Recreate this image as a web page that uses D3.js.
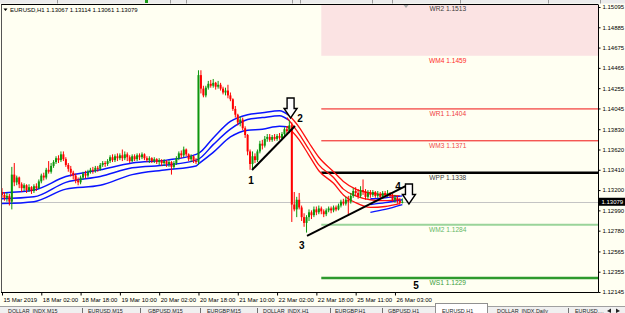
<!DOCTYPE html>
<html><head><meta charset="utf-8">
<script src="https://cdn.jsdelivr.net/npm/d3@7/dist/d3.min.js"></script>
<style>
html,body{margin:0;padding:0;background:#fffff2;overflow:hidden}
svg{display:block;font-family:"Liberation Sans",Arial,sans-serif}
</style></head><body>
<svg id="c" width="625" height="313"></svg>
<script>
// ---------------- DATA ----------------
const symbolTitle = "EURUSD,H1";
const lastQuote = [1.13067, 1.13114, 1.13061, 1.13079];

const opens = [1.1318,1.1315,1.1312,1.1314,1.1308,1.1336,1.1328,1.1333,1.1326,1.1322,1.1325,1.1320,1.1323,1.1319,1.1324,1.1322,1.1329,1.1335,1.1333,1.1341,
1.1339,1.1345,1.1349,1.1353,1.1351,1.1357,1.1352,1.1346,1.1342,1.1338,1.1335,1.1330,1.1328,1.1333,1.1337,1.1335,1.1339,1.1341,1.1340,1.1343,
1.1342,1.1346,1.1348,1.1347,1.1350,1.1354,1.1351,1.1355,1.1353,1.1356,1.1353,1.1357,1.1354,1.1350,1.1355,1.1352,1.1356,1.1354,1.1357,1.1353,
1.1351,1.1353,1.1350,1.1352,1.1349,1.1351,1.1348,1.1350,1.1347,1.1349,1.1344,1.1348,1.1353,1.1358,1.1356,1.1362,1.1357,1.1352,1.1355,1.1350,
1.1349,1.1439,1.1425,1.1418,1.1426,1.1430,1.1428,1.1431,1.1427,1.1429,1.1425,1.1421,1.1423,1.1418,1.1414,1.1404,1.1398,1.1390,1.1393,1.1384,
1.1377,1.1360,1.1347,1.1355,1.1351,1.1360,1.1368,1.1366,1.1373,1.1375,1.1372,1.1375,1.1373,1.1376,1.1374,1.1378,1.1383,1.1381,1.1387,1.1305,
1.1300,1.1310,1.1302,1.1292,1.1286,1.1292,1.1297,1.1294,1.1300,1.1297,1.1301,1.1298,1.1295,1.1299,1.1301,1.1299,1.1302,1.1300,1.1304,1.1308,
1.1306,1.1310,1.1308,1.1314,1.1319,1.1317,1.1314,1.1320,1.1318,1.1313,1.1317,1.1315,1.1318,1.1314,1.1316,1.1313,1.1317,1.1315,1.1317,1.1314,
1.1310,1.1312,1.1309,1.13067];
const highs = [1.1322,1.1318,1.1317,1.1316,1.1344,1.1348,1.1335,1.1334,1.1328,1.1327,1.1326,1.1326,1.1324,1.1326,1.1327,1.1331,1.1337,1.1338,1.1343,1.1350,
1.1348,1.1351,1.1355,1.1356,1.1360,1.1360,1.1354,1.1348,1.1345,1.1340,1.1337,1.1333,1.1335,1.1339,1.1340,1.1341,1.1343,1.1344,1.1345,1.1345,
1.1348,1.1350,1.1350,1.1352,1.1356,1.1357,1.1357,1.1358,1.1358,1.1362,1.1360,1.1359,1.1356,1.1357,1.1357,1.1358,1.1358,1.1359,1.1358,1.1355,
1.1355,1.1354,1.1354,1.1353,1.1353,1.1352,1.1352,1.1351,1.1351,1.1350,1.1350,1.1355,1.1360,1.1361,1.1365,1.1363,1.1358,1.1357,1.1356,1.1353,
1.1444,1.1444,1.1428,1.1428,1.1433,1.1434,1.1435,1.1432,1.1433,1.1431,1.1427,1.1426,1.1429,1.1421,1.1415,1.1407,1.1399,1.1396,1.1395,1.1386,
1.1378,1.1362,1.1360,1.1358,1.1362,1.1371,1.1372,1.1376,1.1378,1.1378,1.1377,1.1378,1.1378,1.1379,1.1380,1.1385,1.1386,1.1392,1.1390,1.1318,
1.1313,1.1317,1.1304,1.1296,1.1294,1.1300,1.1299,1.1303,1.1303,1.1304,1.1303,1.1300,1.1301,1.1303,1.1303,1.1304,1.1304,1.1306,1.1310,1.1311,
1.1313,1.1314,1.1317,1.1322,1.1323,1.1321,1.1324,1.1331,1.1321,1.1320,1.1320,1.1320,1.1319,1.1319,1.1318,1.1319,1.1319,1.1320,1.1318,1.1316,
1.1315,1.1314,1.1312,1.13114];
const lows = [1.1312,1.1309,1.1308,1.1304,1.1300,1.1324,1.1325,1.1322,1.1318,1.1319,1.1317,1.1318,1.1316,1.1317,1.1319,1.1321,1.1327,1.1330,1.1331,1.1337,
1.1337,1.1343,1.1347,1.1348,1.1349,1.1350,1.1344,1.1339,1.1334,1.1331,1.1327,1.1325,1.1326,1.1331,1.1332,1.1333,1.1337,1.1337,1.1338,1.1339,
1.1340,1.1344,1.1344,1.1345,1.1348,1.1349,1.1349,1.1350,1.1351,1.1350,1.1351,1.1350,1.1348,1.1349,1.1350,1.1350,1.1351,1.1352,1.1351,1.1349,
1.1348,1.1348,1.1348,1.1347,1.1346,1.1345,1.1345,1.1344,1.1344,1.1336,1.1342,1.1346,1.1351,1.1353,1.1354,1.1355,1.1350,1.1349,1.1348,1.1347,
1.1346,1.1420,1.1416,1.1416,1.1424,1.1426,1.1426,1.1424,1.1425,1.1423,1.1419,1.1418,1.1415,1.1412,1.1402,1.1395,1.1387,1.1386,1.1382,1.1374,
1.1356,1.1341,1.1341,1.1348,1.1349,1.1358,1.1362,1.1364,1.1370,1.1370,1.1370,1.1371,1.1371,1.1372,1.1372,1.1376,1.1379,1.1379,1.1287,1.1298,
1.1292,1.1300,1.1288,1.1282,1.1276,1.1288,1.1290,1.1292,1.1294,1.1295,1.1295,1.1292,1.1293,1.1297,1.1296,1.1297,1.1298,1.1299,1.1302,1.1304,
1.1304,1.1295,1.1306,1.1312,1.1314,1.1311,1.1312,1.1315,1.1310,1.1311,1.1312,1.1313,1.1312,1.1312,1.1311,1.1312,1.1312,1.1313,1.1312,1.1308,
1.1307,1.1306,1.1305,1.13061];
const closes = [1.1315,1.1312,1.1314,1.1308,1.1336,1.1328,1.1333,1.1326,1.1322,1.1325,1.1320,1.1323,1.1319,1.1324,1.1322,1.1329,1.1335,1.1333,1.1341,1.1339,
1.1345,1.1349,1.1353,1.1351,1.1357,1.1352,1.1346,1.1342,1.1338,1.1335,1.1330,1.1328,1.1333,1.1337,1.1335,1.1339,1.1341,1.1340,1.1343,1.1342,
1.1346,1.1348,1.1347,1.1350,1.1354,1.1351,1.1355,1.1353,1.1356,1.1353,1.1357,1.1354,1.1350,1.1355,1.1352,1.1356,1.1354,1.1357,1.1353,1.1351,
1.1353,1.1350,1.1352,1.1349,1.1351,1.1348,1.1350,1.1347,1.1349,1.1344,1.1348,1.1353,1.1358,1.1356,1.1362,1.1357,1.1352,1.1355,1.1350,1.1349,
1.1439,1.1425,1.1418,1.1426,1.1430,1.1428,1.1431,1.1427,1.1429,1.1425,1.1421,1.1423,1.1418,1.1414,1.1404,1.1398,1.1390,1.1393,1.1384,1.1377,
1.1360,1.1347,1.1355,1.1351,1.1360,1.1368,1.1366,1.1373,1.1375,1.1372,1.1375,1.1373,1.1376,1.1374,1.1378,1.1383,1.1381,1.1387,1.1305,1.1300,
1.1310,1.1302,1.1292,1.1286,1.1292,1.1297,1.1294,1.1300,1.1297,1.1301,1.1298,1.1295,1.1299,1.1301,1.1299,1.1302,1.1300,1.1304,1.1308,1.1306,
1.1310,1.1308,1.1314,1.1319,1.1317,1.1314,1.1320,1.1318,1.1313,1.1317,1.1315,1.1318,1.1314,1.1316,1.1313,1.1317,1.1315,1.1317,1.1314,1.1310,
1.1312,1.1309,1.13067,1.13079];

const timeLabelIdx = [0,16,32,48,64,80,96,112,128,144,160];
const timeLabels = ["15 Mar 2019","18 Mar 02:00","18 Mar 18:00","19 Mar 10:00","20 Mar 02:00","20 Mar 18:00","21 Mar 10:00","22 Mar 02:00","22 Mar 18:00","25 Mar 11:00","26 Mar 03:00"];
const priceTicks = [1.15095,1.14885,1.14675,1.14465,1.14255,1.14045,1.13830,1.13620,1.13410,1.13200,1.12990,1.12780,1.12565,1.12355,1.12145];

// channel (up phase, blue)
const blueIdx   = [0,13,26,40,53,67,79,80,86,93,100,106,113,117];
const blueUpper = [1.1317,1.1320,1.1334,1.1341,1.1348,1.1351,1.1357,1.1358,1.1374,1.1391,1.1398,1.1400,1.1402,1.1397];
const blueMid   = [1.1311,1.1313,1.1328,1.1334,1.1343,1.1346,1.1351,1.1352,1.1367,1.1383,1.1393,1.1395,1.1397,1.1392];
const blueLower = [1.1306,1.1308,1.1321,1.1325,1.1336,1.1341,1.1345,1.1347,1.1359,1.1375,1.1382,1.1383,1.1386,1.1385];
// channel (down phase, red)
const redIdx   = [116,121,125,129,135,139,144,150,156,162];
const redUpper = [1.1400,1.1385,1.1369,1.1354,1.1339,1.1329,1.1321,1.1317,1.1315,1.1314];
const redMid   = [1.1395,1.1378,1.1362,1.1346,1.1333,1.1321,1.1314,1.1310,1.1309,1.1310];
const redLower = [1.1386,1.1372,1.1356,1.1340,1.1327,1.1315,1.1307,1.1302,1.1303,1.1306];
// channel (turning up again, blue)
const blue2Idx   = [150,156,163];
const blue2Upper = [1.1311,1.1312,1.1314];
const blue2Mid   = [1.1305,1.1307,1.1310];
const blue2Lower = [1.1297,1.1300,1.1305];

const pivotNames  = ["WR2","WM4","WR1","WM3","WPP","WM2","WS1"];
const pivotValues = [1.1513,1.1459,1.1404,1.1371,1.1338,1.1284,1.1229];
const pivotStartIdx = 130;
const pivotLabelIdx = 181.5;

const trendFromIdx   = [101.8, 124.2];
const trendFromPrice = [1.13408, 1.12725];
const trendToIdx     = [119.3, 165.3];
const trendToPrice   = [1.13863, 1.13253];

const arrowIdx      = [117.5, 165.7];
const arrowTopPrice = [1.14153, 1.13263];
const arrowTipPrice = [1.13946, 1.13056];

const waveNames = ["1","2","3","4","5"];
const waveIdx   = [101.4, 121.3, 122.1, 161.2, 168.6];
const wavePrice = [1.13294, 1.13936, 1.12631, 1.13232, 1.12217];

const tabNames = ["DOLLAR_INDX,M15","EURUSD,M15","GBPUSD,M15","EURGBP,M15","DOLLAR_INDX,H1","EURGBP,H1","GBPUSD,H1","EURUSD,H1","DOLLAR_INDX,Daily","EURUSD,..."];
const activeTab = 7;

// ---------------- DRAW ----------------
const svg = d3.select("#c");
const W = 625, H = 313;
const P = {l: 2, r: 598, t: 5, b: 292.5};
const x = d3.scaleLinear().domain([0, 242.67]).range([2, 598]);
const y = d3.scaleLinear().domain([1.12145, 1.15095]).range([292, 7]);

svg.append("rect").attr("width", W).attr("height", H).attr("fill", "#fffff2");

// top toolbar remnant
svg.append("rect").attr("x",0).attr("y",0).attr("width",W).attr("height",3.5).attr("fill","#ececec");
[57,170,186,292,300,372,392,460,548,600].forEach(v=>{
  svg.append("line").attr("x1",v+.5).attr("x2",v+.5).attr("y1",0).attr("y2",3.5).attr("stroke","#9a9a9a");
});
svg.append("rect").attr("x",145).attr("y",0).attr("width",3).attr("height",3).attr("fill","#1a9a1a");

const defs = svg.append("defs");
defs.append("clipPath").attr("id","clip").append("rect")
  .attr("x",P.l).attr("y",P.t).attr("width",P.r-P.l).attr("height",P.b-P.t);
const g = svg.append("g").attr("clip-path","url(#clip)");

// pivot zone
const pv = Object.fromEntries(pivotNames.map((n,k)=>[n,pivotValues[k]]));
const pxStart = x(pivotStartIdx), pxEnd = P.r;
g.append("rect").attr("x",pxStart).attr("y",y(pv.WR2)).attr("width",pxEnd-pxStart)
  .attr("height",y(pv.WM4)-y(pv.WR2)).attr("fill","#fbe3e3");

const pivotStyle = {
  WR2:{line:null,w:0,txt:"#404040"},
  WM4:{line:null,w:0,txt:"#ff2a2a"},
  WR1:{line:"#f01010",w:1,txt:"#f04040"},
  WM3:{line:"#f01010",w:1,txt:"#f04848"},
  WPP:{line:"#000000",w:2.5,txt:"#404040"},
  WM2:{line:"#9ad49a",w:2,txt:"#66b866"},
  WS1:{line:"#2e9a2e",w:2.5,txt:"#3a9e3a"}
};
pivotNames.forEach((n,k)=>{
  const s = pivotStyle[n];
  if (s.line) g.append("line").attr("x1",pxStart).attr("x2",pxEnd)
      .attr("y1",y(pivotValues[k])).attr("y2",y(pivotValues[k]))
      .attr("stroke",s.line).attr("stroke-width",s.w);
});

// current price line
const lastClose = closes[closes.length-1];
g.append("line").attr("x1",P.l).attr("x2",P.r).attr("y1",Math.round(y(lastClose))+.5).attr("y2",Math.round(y(lastClose))+.5)
  .attr("stroke","#c4c4c4").attr("stroke-width",1);

// bands
function band(idx, arrs, color, w){
  arrs.forEach(a=>{
    const pts = idx.map((d,k)=>[x(d), y(a[k])]);
    g.append("path").attr("d", d3.line().curve(d3.curveMonotoneX)(pts))
      .attr("fill","none").attr("stroke",color).attr("stroke-width",w);
  });
}
band(blueIdx,[blueUpper,blueMid,blueLower],"#0a14ff",1.5);
band(redIdx,[redUpper,redMid,redLower],"#ff1010",1.3);
band(blue2Idx,[blue2Upper,blue2Mid,blue2Lower],"#0a14ff",1.3);

// candles
const bars = opens.map((o,i)=>({i,o,h:highs[i],l:lows[i],c:closes[i]}));
const cg = g.append("g");
bars.forEach(b=>{
  const col = b.c >= b.o ? "#0d960d" : "#ff0000";
  const cx = x(b.i);
  cg.append("line").attr("x1",cx).attr("x2",cx).attr("y1",y(b.h)).attr("y2",y(b.l))
    .attr("stroke",col).attr("stroke-width",1);
  const top = y(Math.max(b.o,b.c)), bot = y(Math.min(b.o,b.c));
  cg.append("rect").attr("x",cx-1).attr("y",top).attr("width",2).attr("height",Math.max(1,bot-top)).attr("fill",col);
});

// trend lines
trendFromIdx.forEach((d,k)=>{
  g.append("line").attr("x1",x(d)).attr("y1",y(trendFromPrice[k]))
    .attr("x2",x(trendToIdx[k])).attr("y2",y(trendToPrice[k]))
    .attr("stroke","#000").attr("stroke-width",2);
});

// arrows
arrowIdx.forEach((d,k)=>{
  const cx = x(d), top = y(arrowTopPrice[k]), tip = y(arrowTipPrice[k]);
  const hb = tip - 9.5;
  const pts = [[cx-3.5,top],[cx+3.5,top],[cx+3.5,hb],[cx+6.5,hb],[cx,tip],[cx-6.5,hb],[cx-3.5,hb]];
  g.append("path").attr("d","M"+pts.map(p=>p.join(",")).join("L")+"Z")
    .attr("fill","#ffffff").attr("stroke","#000").attr("stroke-width",1.4).attr("stroke-linejoin","miter");
});

// pivot labels
pivotNames.forEach((n,k)=>{
  g.append("text").attr("x",x(pivotLabelIdx)).attr("y",y(pivotValues[k])+7.5)
    .attr("text-anchor","middle").attr("font-size","6.6px").attr("fill",pivotStyle[n].txt)
    .text(n+" "+pivotValues[k].toFixed(4));
});

// wave labels
waveNames.forEach((n,k)=>{
  g.append("text").attr("x",x(waveIdx[k])).attr("y",y(wavePrice[k]))
    .attr("text-anchor","middle").attr("dominant-baseline","central")
    .attr("font-size","10px").attr("font-weight","bold").attr("fill","#000").text(n);
});

// chart shift marker
svg.append("path").attr("d",`M${x(164.5)-2.5},5L${x(164.5)+2.5},5L${x(164.5)},8Z`).attr("fill","#a8a8a8");

// header
svg.append("path").attr("d","M3.5,8.5L7.5,8.5L5.5,11Z").attr("fill","#000");
svg.append("text").attr("x",10).attr("y",12.3).attr("font-size","6px").attr("fill","#000")
  .text(symbolTitle+"  "+lastQuote.map(v=>v.toFixed(5)).join(" "));

// frame
svg.append("line").attr("x1",1).attr("x2",P.r).attr("y1",4.5).attr("y2",4.5).attr("stroke","#000");
svg.append("line").attr("x1",1.5).attr("x2",1.5).attr("y1",4.5).attr("y2",P.b).attr("stroke","#555");
svg.append("line").attr("x1",1).attr("x2",P.r+.5).attr("y1",P.b).attr("y2",P.b).attr("stroke","#000");
svg.append("line").attr("x1",P.r+.5).attr("x2",P.r+.5).attr("y1",4.5).attr("y2",P.b).attr("stroke","#000");

// right axis
const ya = svg.append("g").attr("transform",`translate(${P.r+.5},0)`)
  .call(d3.axisRight(y).tickValues(priceTicks).tickSize(2).tickPadding(2).tickFormat(d3.format(".5f")));
ya.select(".domain").remove();
ya.selectAll("text").attr("font-size","6px").attr("fill","#000").attr("font-family","Liberation Sans, Arial, sans-serif");
ya.selectAll("line").attr("stroke","#000");

// current price tag
const cy = y(lastClose);
svg.append("rect").attr("x",599).attr("y",cy-4).attr("width",26).attr("height",8).attr("fill","#000");
svg.append("text").attr("x",601.5).attr("y",cy).attr("dominant-baseline","central")
  .attr("font-size","6px").attr("fill","#fff").text(lastClose.toFixed(5));

// bottom axis
const xa = svg.append("g").attr("transform",`translate(0,${P.b})`)
  .call(d3.axisBottom(x).tickValues(timeLabelIdx).tickSize(3).tickFormat((d,k)=>timeLabels[k]));
xa.select(".domain").remove();
xa.selectAll("line").attr("stroke","#000");
xa.selectAll("text").attr("text-anchor","start").attr("dx","1").attr("dy","0").attr("y",9)
  .attr("font-size","6px").attr("fill","#000").attr("font-family","Liberation Sans, Arial, sans-serif");

// tab bar
svg.append("rect").attr("x",0).attr("y",306.5).attr("width",W).attr("height",7).attr("fill","#f0f0f0");
svg.append("line").attr("x1",0).attr("x2",W).attr("y1",306.5).attr("y2",306.5).attr("stroke","#a0a0a0");
const tabX = [8,88,148,207,263,335,388,442,497,575];
const tabSep = [82,140,200,257,330,382,null,null,568];
svg.append("rect").attr("x",435.5).attr("y",303.5).attr("width",52).attr("height",12).attr("fill","#ffffff").attr("stroke","#909090");
tabNames.forEach((n,k)=>{
  svg.append("text").attr("x",tabX[k]).attr("y",312.6).attr("font-size","5.4px").attr("fill","#222").text(n);
  if (tabSep[k]) svg.append("line").attr("x1",tabSep[k]+.5).attr("x2",tabSep[k]+.5).attr("y1",308).attr("y2",313).attr("stroke","#707070");
});
svg.append("path").attr("d","M607,311L611,308.5L611,313Z").attr("fill","#222");
svg.append("path").attr("d","M620,311L616,308.5L616,313Z").attr("fill","#222");
</script>
</body></html>
